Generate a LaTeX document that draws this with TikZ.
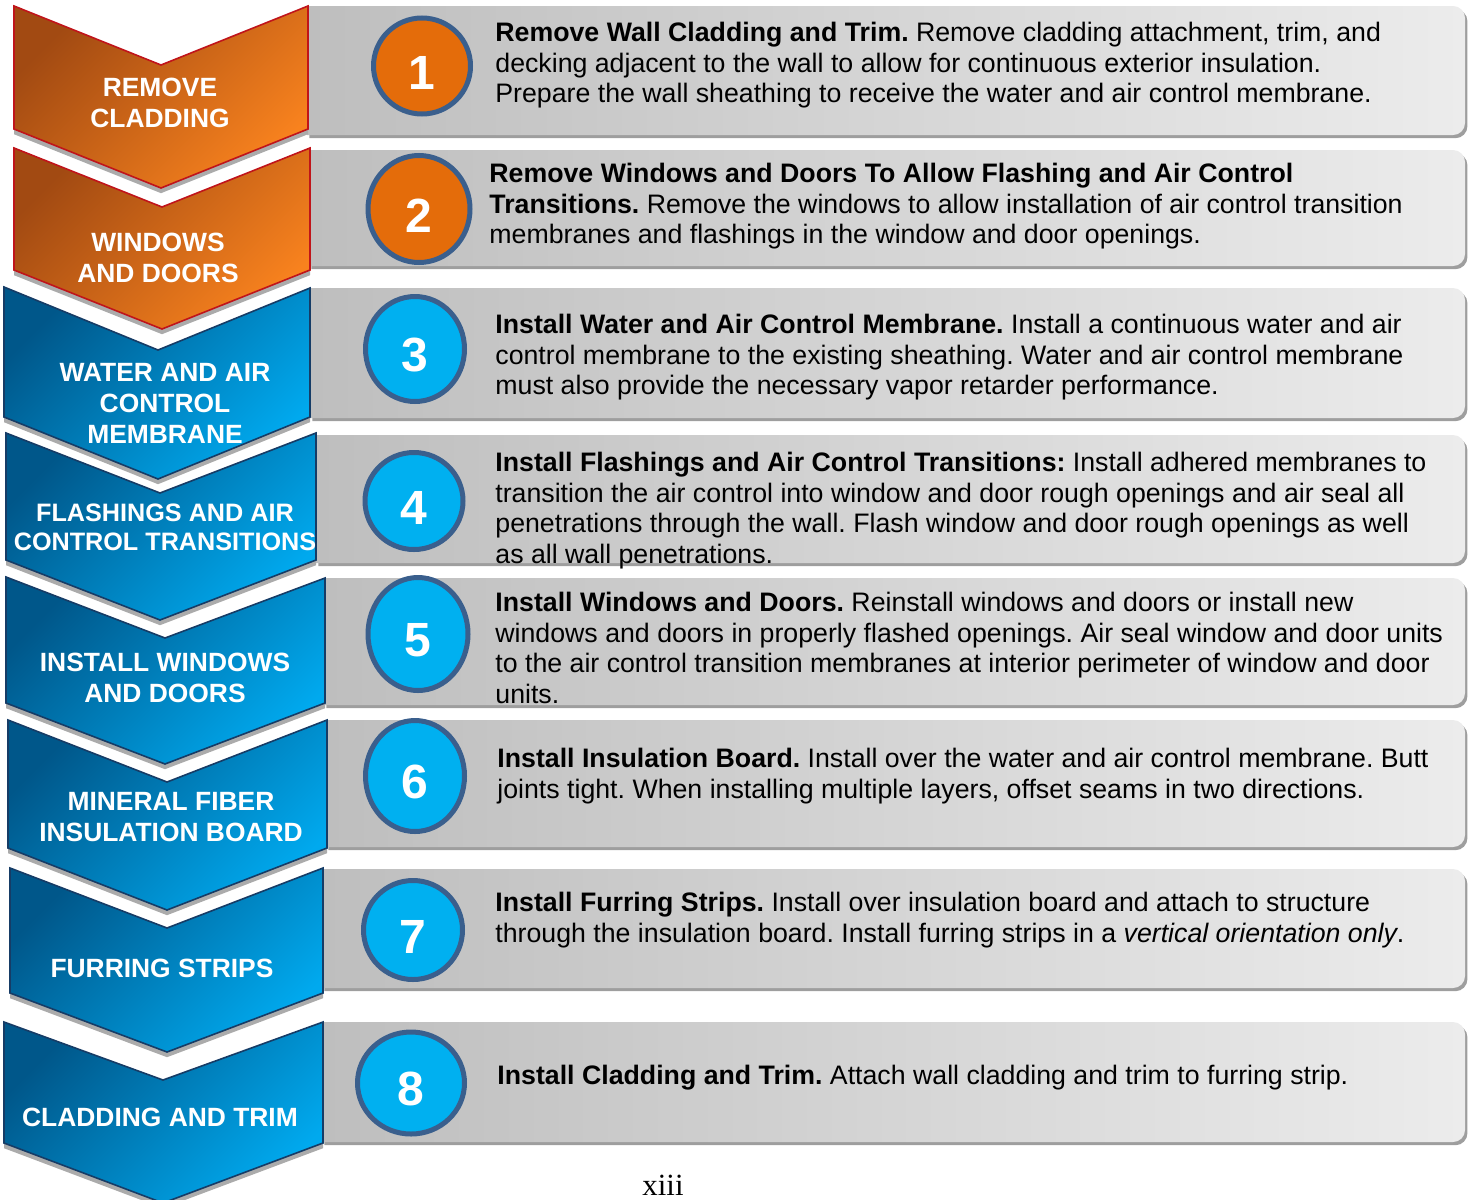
\documentclass[tikz,border=0pt]{standalone}
\usepackage{fontspec}
\setmainfont{Liberation Sans}
\newfontfamily\pagefont{Liberation Serif}
\usetikzlibrary{shapes.geometric,shadows}
\frenchspacing

\definecolor{ordark}{HTML}{A24A12}
\definecolor{ormid}{HTML}{EE7A1C}
\definecolor{orlight}{HTML}{F8821E}
\definecolor{oredge}{HTML}{C0141A}
\definecolor{bludark}{HTML}{00578A}
\definecolor{blumid}{HTML}{0398D8}
\definecolor{blulight}{HTML}{00A9EE}
\definecolor{bluedge}{HTML}{163C66}
\definecolor{numorange}{HTML}{E46C0A}
\definecolor{numblue}{HTML}{00B0F0}
\definecolor{ringblue}{HTML}{3A5F8D}
\definecolor{barleft}{HTML}{BEBEBE}
\definecolor{barright}{HTML}{ECECEC}

\begin{document}
\begin{tikzpicture}[x=0.5pt,y=-0.5pt,
    bar/.style={left color=barleft,right color=barright,
        drop shadow={shadow xshift=1.2pt,shadow yshift=-1.6pt,fill=black!38,opacity=1}},
    orchev/.style={draw=oredge,line width=0.8pt,
        top color=ordark,middle color=ormid,bottom color=orlight,shading angle=45,
        drop shadow={shadow xshift=0pt,shadow yshift=-2.6pt,fill=black!33,opacity=1}},
    bluchev/.style={draw=bluedge,line width=0.8pt,
        top color=bludark,middle color=blumid,bottom color=blulight,shading angle=45,
        drop shadow={shadow xshift=0pt,shadow yshift=-2.6pt,fill=black!33,opacity=1}},
    chevlabel/.style={align=center,text=white,inner sep=0pt,
        font=\fontsize{13.2}{15.5}\selectfont\bfseries},
    stepnum/.style={ellipse,draw=ringblue,line width=2.5pt,inner sep=0pt,
        text=white,text height=23pt,font=\fontsize{24}{24}\selectfont\bfseries},
    desc/.style={anchor=base west,align=left,inner sep=0pt,
        font=\fontsize{13.36}{15.3}\selectfont}]

\useasboundingbox (0,0) rectangle (1470,1199);

% ===== 灰色条 =====
\path[bar] (307,135) -- (307,6) -- (1400,6) [rounded corners=6pt] -- (1465,6) -- (1465,135) -- (1400,135) [sharp corners] -- (307,135) -- cycle;
\path[bar] (309,266) -- (309,150) -- (1400,150) [rounded corners=6pt] -- (1465,150) -- (1465,266) -- (1400,266) [sharp corners] -- (309,266) -- cycle;
\path[bar] (310,418) -- (310,288) -- (1400,288) [rounded corners=6pt] -- (1465,288) -- (1465,418) -- (1400,418) [sharp corners] -- (310,418) -- cycle;
\path[bar] (316,563) -- (316,435) -- (1400,435) [rounded corners=6pt] -- (1465,435) -- (1465,563) -- (1400,563) [sharp corners] -- (316,563) -- cycle;
\path[bar] (324,705) -- (324,578) -- (1400,578) [rounded corners=6pt] -- (1465,578) -- (1465,705) -- (1400,705) [sharp corners] -- (324,705) -- cycle;
\path[bar] (326,847) -- (326,720) -- (1400,720) [rounded corners=6pt] -- (1465,720) -- (1465,847) -- (1400,847) [sharp corners] -- (326,847) -- cycle;
\path[bar] (322,988) -- (322,869) -- (1400,869) [rounded corners=6pt] -- (1465,869) -- (1465,988) -- (1400,988) [sharp corners] -- (322,988) -- cycle;
\path[bar] (322,1142) -- (322,1022) -- (1400,1022) [rounded corners=6pt] -- (1465,1022) -- (1465,1142) -- (1400,1142) [sharp corners] -- (322,1142) -- cycle;

% ===== 人字形 =====
\path[orchev] (14,6) -- (161,65) -- (308,6) -- (308,129) -- (161,188) -- (14,129) -- cycle;
\path[orchev] (14,148) -- (162,207) -- (310,148) -- (310,270) -- (162,329) -- (14,270) -- cycle;
\path[bluchev] (4,287) -- (158,350) -- (310,288) -- (310,417) -- (158,479) -- (4,417) -- cycle;
\path[bluchev] (6,433) -- (160,493) -- (316,433) -- (316,560) -- (160,620) -- (6,560) -- cycle;
\path[bluchev] (6,577) -- (165,638) -- (325,578) -- (325,703) -- (165,764) -- (6,703) -- cycle;
\path[bluchev] (8,720) -- (167,782) -- (327,720) -- (327,848) -- (167,910) -- (8,848) -- cycle;
\path[bluchev] (10,868) -- (167,928) -- (323,868) -- (323,993) -- (167,1052) -- (10,993) -- cycle;
\path[bluchev] (4,1022) -- (163,1080) -- (323,1022) -- (323,1143) -- (163,1203) -- (4,1143) -- cycle;

% ===== 人字形文字 =====
\node[chevlabel] (lab1) at (160,102.5) {REMOVE\\CLADDING};
\node[chevlabel] (lab2) at (158,257.5) {WINDOWS\\AND DOORS};
\node[chevlabel] (lab3) at (165,403) {WATER AND AIR\\CONTROL\\MEMBRANE};
\node[chevlabel,font=\fontsize{12.6}{14.6}\selectfont\bfseries] (lab4) at (165,527.5) {FLASHINGS AND AIR\\CONTROL TRANSITIONS};
\node[chevlabel] (lab5) at (165,677.5) {INSTALL WINDOWS\\AND DOORS};
\node[chevlabel] (lab6) at (171,817.5) {MINERAL FIBER\\INSULATION BOARD};
\node[chevlabel] (lab7) at (162,968) {FURRING STRIPS};
\node[chevlabel] (lab8) at (160,1117) {CLADDING AND TRIM};

% ===== 编号圆 =====
\node[stepnum,fill=numorange,minimum width=48.5pt,minimum height=48pt] (n1) at (422,66) {1};
\node[stepnum,fill=numorange,minimum width=51pt,minimum height=53.5pt] (n2) at (419,209) {2};
\node[stepnum,fill=numblue,minimum width=49.5pt,minimum height=52.5pt] (n3) at (415,349) {3};
\node[stepnum,fill=numblue,minimum width=49pt,minimum height=48.5pt] (n4) at (414,501) {4};
\node[stepnum,fill=numblue,minimum width=50pt,minimum height=56.5pt] (n5) at (418,634) {5};
\node[stepnum,fill=numblue,minimum width=49.5pt,minimum height=55.5pt] (n6) at (415,776) {6};
\node[stepnum,fill=numblue,minimum width=49.5pt,minimum height=49.5pt] (n7) at (413,930) {7};
\node[stepnum,fill=numblue,minimum width=53.5pt,minimum height=51pt] (n8) at (411,1083) {8};

% ===== 说明文字 (base = 末行基线) =====
\node[desc] (d1) at (495,102.7) {\textbf{Remove Wall Cladding and Trim.} Remove cladding attachment, trim, and\\decking adjacent to the wall to allow for continuous exterior insulation.\\Prepare the wall sheathing to receive the water and air control membrane.};
\node[desc] (d2) at (489,243.7) {\textbf{Remove Windows and Doors To Allow Flashing and Air Control}\\\textbf{Transitions.} Remove the windows to allow installation of air control transition\\membranes and flashings in the window and door openings.};
\node[desc] (d3) at (495,394.7) {\textbf{Install Water and Air Control Membrane.} Install a continuous water and air\\control membrane to the existing sheathing. Water and air control membrane\\must also provide the necessary vapor retarder performance.};
\node[desc] (d4) at (495,563.3) {\textbf{Install Flashings and Air Control Transitions:} Install adhered membranes to\\transition the air control into window and door rough openings and air seal all\\penetrations through the wall. Flash window and door rough openings as well\\as all wall penetrations.};
\node[desc] (d5) at (495,703.3) {\textbf{Install Windows and Doors.} Reinstall windows and doors or install new\\windows and doors in properly flashed openings. Air seal window and door units\\to the air control transition membranes at interior perimeter of window and door\\units.};
\node[desc] (d6) at (497,798.1) {\textbf{Install Insulation Board.} Install over the water and air control membrane. Butt\\joints tight. When installing multiple layers, offset seams in two directions.};
\node[desc] (d7) at (495,942.1) {\textbf{Install Furring Strips.} Install over insulation board and attach to structure\\through the insulation board. Install furring strips in a \textit{vertical orientation only}.};
\node[desc] (d8) at (497,1084.5) {\textbf{Install Cladding and Trim.} Attach wall cladding and trim to furring strip.};

% 页码
\node[anchor=base,inner sep=0pt,font=\pagefont\fontsize{15.4}{16}\selectfont] (pg) at (663,1195) {xiii};

\end{tikzpicture}
\end{document}
